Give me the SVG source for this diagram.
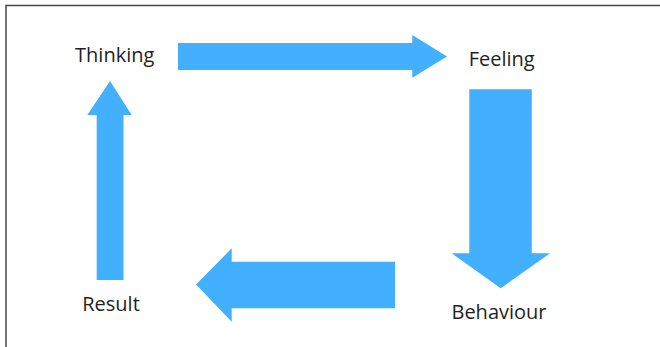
<svg xmlns="http://www.w3.org/2000/svg" width="660" height="347" viewBox="0 0 660 347">
<style>
.lbl{font-family:"Open Sans","Liberation Sans",sans-serif;font-size:20px;fill:#231f20;text-anchor:middle}
.arr{fill:#42afff}
</style>
<rect x="0" y="0" width="660" height="347" fill="#fff"/>
<path d="M6,347 V5.5 H660" fill="none" stroke="#444" stroke-width="1.5"/>
<g id="thinking"><text class="lbl" x="114.7" y="62">Thinking</text></g>
<g id="feeling"><text class="lbl" x="501.7" y="66">Feeling</text></g>
<g id="behaviour"><text class="lbl" x="499" y="318.5">Behaviour</text></g>
<g id="result"><text class="lbl" x="111" y="311">Result</text></g>
<g id="connectors">
<polygon class="arr" points="178,43 412.3,43 412.3,35 447,56.5 412.3,77.7 412.3,70 178,70"/>
<polygon class="arr" points="469.3,89.3 531.8,89.3 531.8,253.3 550,253.3 500.7,288.3 451.7,253.3 469.3,253.3"/>
<polygon class="arr" points="395,261.7 395,308.3 231.7,308.3 231.7,321.7 196,284.5 231.7,248.3 231.7,261.7"/>
<polygon class="arr" points="96.7,280 96.7,115 87.3,115 110,81 131.7,115 123.5,115 123.5,280"/>
</g>
</svg>
